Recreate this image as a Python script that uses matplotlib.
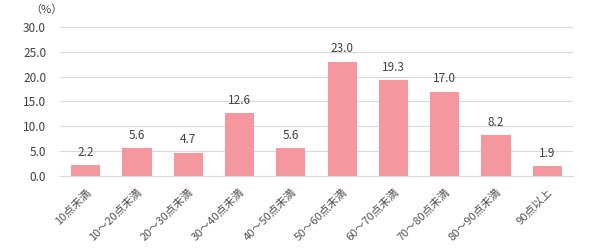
import matplotlib
matplotlib.use('Agg')
import matplotlib.pyplot as plt

plt.rcParams['font.family'] = ['Noto Sans CJK JP', 'DejaVu Sans']

categories = ['10点未満', '10～20点未満', '20～30点未満', '30～40点未満', '40～50点未満',
              '50～60点未満', '60～70点未満', '70～80点未満', '80～90点未満', '90点以上']
values = [2.2, 5.6, 4.7, 12.6, 5.6, 23.0, 19.3, 17.0, 8.2, 1.9]
yticks = [0, 5, 10, 15, 20, 25, 30]

text_color = '#404040'
bar_color = '#F4979E'

fig = plt.figure(figsize=(6, 2.52), dpi=100)
ax = fig.add_axes([0.1, 0.302, 0.855, 0.591])

x = range(len(categories))
ax.bar(x, values, width=0.57, color=bar_color, zorder=2)

# value labels above the bars
for xi, v in zip(x, values):
    ax.text(xi, v + 1.3, f'{v:.1f}', ha='center', va='bottom', fontsize=8.5, color=text_color)

ax.set_ylim(0, 30)
ax.set_xlim(-0.5, len(categories) - 0.5)
ax.set_yticks(yticks)
ax.set_yticklabels([f'{t:.1f}' for t in yticks], fontsize=8.5, color=text_color)
ax.set_xticks(list(x))
ax.set_xticklabels(categories, rotation=45, ha='right', rotation_mode='anchor',
                   fontsize=8, color='#505050')

ax.grid(axis='y', color='#D9D9D9', linewidth=0.8, zorder=0)
for s in ['top', 'right', 'left']:
    ax.spines[s].set_visible(False)
ax.spines['bottom'].set_color('#D9D9D9')
ax.tick_params(axis='y', length=0, pad=10)
ax.tick_params(axis='x', length=0, pad=8)

fig.text(0.05, 0.962, '（%）', fontsize=8, color=text_color, ha='left', va='center')

fig.savefig('out.png', dpi=100)
